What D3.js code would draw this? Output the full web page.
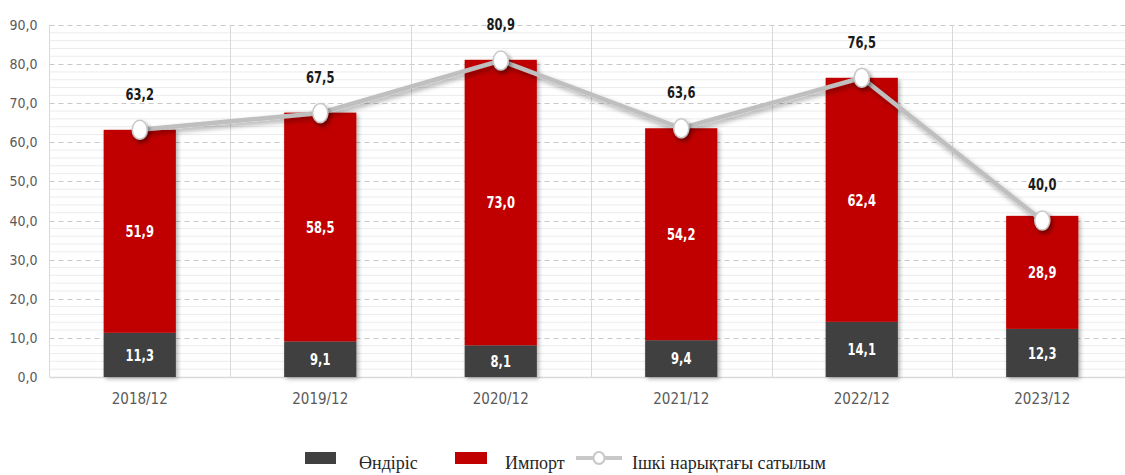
<!DOCTYPE html>
<html><head><meta charset="utf-8">
<script src="https://cdn.jsdelivr.net/npm/d3@7"></script>
<style>
body{margin:0;background:#fff;}
svg{display:block;}
.num{font-family:"DejaVu Sans Condensed","Liberation Sans Narrow",sans-serif;}
</style></head>
<body><svg id="c" width="1125" height="475"></svg>
<script>
const categories = ["2018/12","2019/12","2020/12","2021/12","2022/12","2023/12"];
const production = [11.3, 9.1, 8.1, 9.4, 14.1, 12.3];
const imports = [51.9, 58.5, 73.0, 54.2, 62.4, 28.9];
const domesticSales = [63.2, 67.5, 80.9, 63.6, 76.5, 40.0];
const yTicks = [0,10,20,30,40,50,60,70,80,90];
const legendLabels = ["Өндіріс","Импорт","Ішкі нарықтағы сатылым"];

(function(){
const fmt = v => d3.format(".1f")(v).replace(".", ",");
const svg = d3.select("#c");
const pL = 49.5, pR = 1132.5, pT = 25, pB = 377;

const x = d3.scaleBand().domain(categories).range([pL, pR]).paddingInner(0).paddingOuter(0);
const y = d3.scaleLinear().domain([0,90]).range([pB, pT]);

const defs = svg.append("defs");
const sh = defs.append("filter").attr("id","sh").attr("x","-20%").attr("y","-20%").attr("width","150%").attr("height","150%");
sh.append("feDropShadow").attr("dx",2).attr("dy",2).attr("stdDeviation",2).attr("flood-color","#000").attr("flood-opacity",0.3);
const shm = defs.append("filter").attr("id","shm").attr("x","-60%").attr("y","-60%").attr("width","250%").attr("height","250%");
shm.append("feDropShadow").attr("dx",2).attr("dy",3).attr("stdDeviation",2).attr("flood-color","#000").attr("flood-opacity",0.45);
const shl = defs.append("filter").attr("id","shl").attr("x","-10%").attr("y","-50%").attr("width","120%").attr("height","200%");
shl.append("feDropShadow").attr("dx",2).attr("dy",3).attr("stdDeviation",2.5).attr("flood-color","#000").attr("flood-opacity",0.35);

const minor = d3.range(0, 90.01, 2).filter(v => v % 10 !== 0);
svg.append("g").selectAll("line").data(minor).join("line")
  .attr("x1", pL).attr("x2", pR).attr("y1", d => y(d)).attr("y2", d => y(d))
  .attr("stroke", "#ececec").attr("stroke-width", 1);
svg.append("g").selectAll("line").data(yTicks.filter(d=>d>0)).join("line")
  .attr("x1", pL).attr("x2", pR).attr("y1", d => Math.round(y(d))+0.5).attr("y2", d => Math.round(y(d))+0.5)
  .attr("stroke", "#c8c8c8").attr("stroke-width", 1).attr("stroke-dasharray","5,4");
svg.append("g").selectAll("line").data(categories.slice(1)).join("line")
  .attr("x1", d => Math.round(x(d))+0.5).attr("x2", d => Math.round(x(d))+0.5)
  .attr("y1", pT).attr("y2", pB)
  .attr("stroke", "#d9d9d9").attr("stroke-width", 1);
svg.append("line").attr("x1", pL).attr("x2", pL).attr("y1", pT).attr("y2", pB).attr("stroke","#d9d9d9");
svg.append("line").attr("x1", pL).attr("x2", pR).attr("y1", pB+0.5).attr("y2", pB+0.5).attr("stroke","#d9d9d9").attr("stroke-width",1.5);

const yAxis = d3.axisLeft(y).tickValues(yTicks).tickFormat(fmt).tickSize(0).tickPadding(12);
const yg = svg.append("g").attr("transform", `translate(${pL},0)`).call(yAxis);
yg.select(".domain").remove();
yg.selectAll("text").attr("class","num").style("font-size","14px").attr("fill","#595959");

const xAxis = d3.axisBottom(x).tickSize(0).tickPadding(16);
const xg = svg.append("g").attr("transform", `translate(0,${pB})`).call(xAxis);
xg.select(".domain").remove();
xg.selectAll("text").attr("class","num").style("font-size","15px").attr("fill","#595959");

const bw = x.bandwidth()*0.4;
const bx = d => x(d) + (x.bandwidth()-bw)/2;

const bars = svg.append("g").attr("filter","url(#sh)");
bars.selectAll(".p").data(categories).join("rect")
  .attr("x", d => bx(d)).attr("width", bw)
  .attr("y", (d,i) => y(production[i])).attr("height", (d,i) => y(0)-y(production[i]))
  .attr("fill", "#404040");
bars.selectAll(".m").data(categories).join("rect")
  .attr("x", d => bx(d)).attr("width", bw)
  .attr("y", (d,i) => y(production[i]+imports[i])).attr("height", (d,i) => y(production[i])-y(production[i]+imports[i]))
  .attr("fill", "#c00000");

const SX = 0.8;
function label(g, data, px, py, txt, fill){
  g.selectAll("text").data(data).join("text").attr("class","num")
    .attr("transform", (d,i) => `translate(${px(d,i)},${py(d,i)}) scale(${SX},1)`)
    .attr("dy","0.36em").attr("text-anchor","middle").attr("fill",fill)
    .style("font-size","16px").style("font-weight","bold").text(txt);
}
const cx = d => x(d)+x.bandwidth()/2;
label(svg.append("g"), categories, d => cx(d), (d,i) => (y(0)+y(production[i]))/2, (d,i)=>fmt(production[i]), "#fff");
label(svg.append("g"), categories, d => cx(d), (d,i) => (y(production[i])+y(production[i]+imports[i]))/2, (d,i)=>fmt(imports[i]), "#fff");

const line = d3.line().x((d,i)=>cx(categories[i])).y(d=>y(d));
svg.append("path").datum(domesticSales).attr("d", line).attr("fill","none")
  .attr("stroke","#bfbfbf").attr("stroke-width",4.5).attr("filter","url(#shl)");
svg.append("g").selectAll("ellipse").data(domesticSales).join("ellipse")
  .attr("cx",(d,i)=>cx(categories[i])).attr("cy", d=>y(d)).attr("rx",7.5).attr("ry",9.5)
  .attr("fill","#fff").attr("stroke","#c8c8c8").attr("stroke-width",1.5).attr("filter","url(#shm)");
label(svg.append("g"), domesticSales, (d,i)=>cx(categories[i]), d => y(d)-36, d=>fmt(d), "#1a1a1a");

const lg = svg.append("g").style("font-family","'Liberation Serif','Times New Roman',serif").style("font-size","18px").attr("fill","#262626");
lg.append("rect").attr("x",305).attr("y",452).attr("width",31).attr("height",12).attr("fill","#404040");
lg.append("text").attr("x",359).attr("y",469).text(legendLabels[0]);
lg.append("rect").attr("x",455).attr("y",452).attr("width",32).attr("height",12).attr("fill","#c00000");
lg.append("text").attr("x",505).attr("y",469).text(legendLabels[1]);
lg.append("line").attr("x1",576).attr("x2",622).attr("y1",458).attr("y2",458).attr("stroke","#c8c8c8").attr("stroke-width",4);
lg.append("ellipse").attr("cx",599).attr("cy",458).attr("rx",5.5).attr("ry",6).attr("fill","#fff").attr("stroke","#c8c8c8").attr("stroke-width",2);
lg.append("text").attr("x",632).attr("y",469).text(legendLabels[2]);
})();
</script></body></html>
